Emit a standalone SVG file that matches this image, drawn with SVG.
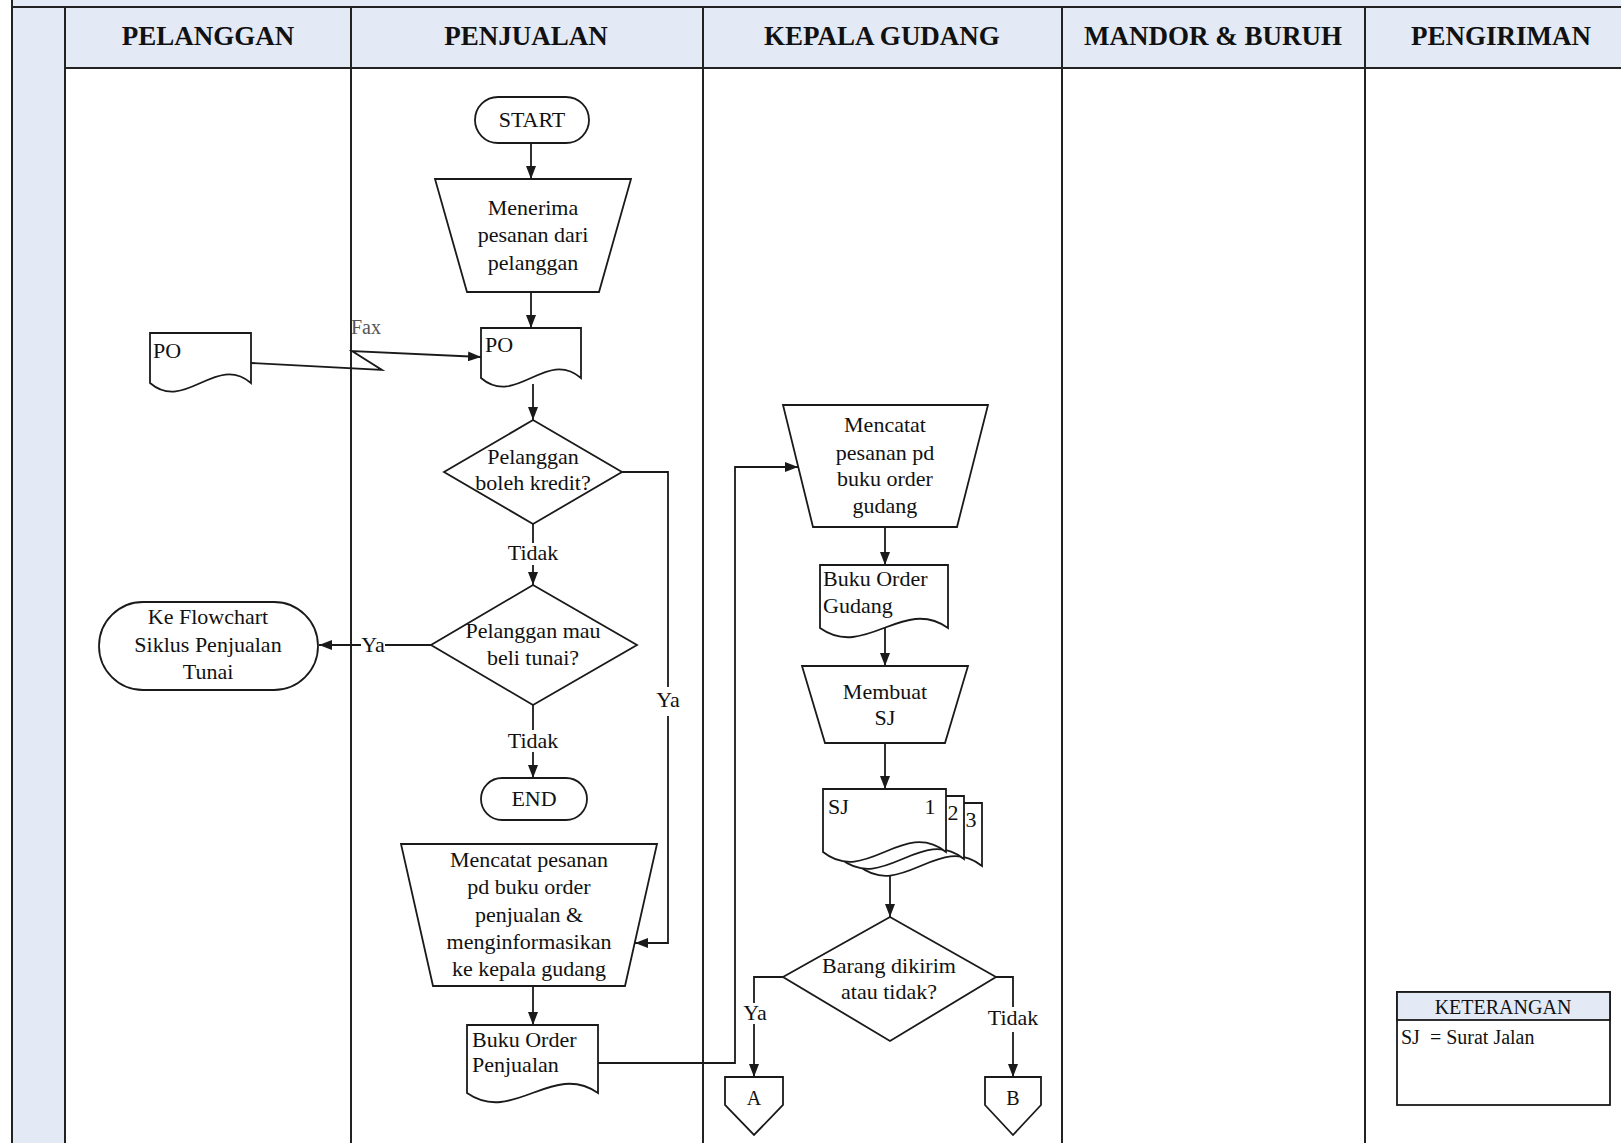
<svg xmlns="http://www.w3.org/2000/svg" width="1621" height="1143" viewBox="0 0 1621 1143">
  <style>
    .grid { stroke: #222; stroke-width: 2; fill: none; }
    .band { fill: #e4eaf5; }
    .shape { fill: #fff; stroke: #1a1a1a; stroke-width: 1.8; }
    .wire { fill: none; stroke: #1a1a1a; stroke-width: 1.8; }
    .arrow { marker-end: url(#head); }
    .t { font-family: "Liberation Serif", "Times New Roman", serif; font-size: 22px; fill: #111; }
    .c { text-anchor: middle; }
    .h { font-family: "Liberation Serif", "Times New Roman", serif; font-size: 27px; font-weight: bold; fill: #111; text-anchor: middle; }
    .s { font-size: 20px; }
    .fax { fill: #555; font-size: 20px; }
  </style>
  <defs>
    <marker id="head" markerUnits="userSpaceOnUse" markerWidth="13" markerHeight="10" refX="13" refY="5" orient="auto">
      <path d="M0,0 L13,5 L0,10 Z" fill="#1a1a1a"/>
    </marker>
  </defs>

  <!-- swimlane table -->
  <g id="lanes">
    <rect x="0" y="0" width="1621" height="1143" fill="#fff"/>
    <rect class="band" x="12" y="-5" width="1609" height="73"/>
    <rect class="band" x="12" y="-5" width="53" height="1150"/>
    <line class="grid" x1="12" y1="-5" x2="12" y2="1143"/>
    <line class="grid" x1="12" y1="7" x2="1621" y2="7"/>
    <line class="grid" x1="65" y1="7" x2="65" y2="1143"/>
    <line class="grid" x1="65" y1="68" x2="1621" y2="68"/>
    <line class="grid" x1="351" y1="7" x2="351" y2="1143"/>
    <line class="grid" x1="703" y1="7" x2="703" y2="1143"/>
    <line class="grid" x1="1062" y1="7" x2="1062" y2="1143"/>
    <line class="grid" x1="1365" y1="7" x2="1365" y2="1143"/>
    <text class="h" x="208" y="45">PELANGGAN</text>
    <text class="h" x="526" y="45">PENJUALAN</text>
    <text class="h" x="882" y="45">KEPALA GUDANG</text>
    <text class="h" x="1213" y="45">MANDOR &amp; BURUH</text>
    <text class="h" x="1501" y="45">PENGIRIMAN</text>
  </g>

  <!-- connectors -->
  <g id="connectors">
    <line class="wire arrow" x1="531" y1="143" x2="531" y2="179"/>
    <line class="wire arrow" x1="531" y1="292" x2="531" y2="328"/>
    <polyline class="wire arrow" points="251,363 382,370 352,351 481,357"/>
    <line class="wire arrow" x1="533" y1="384" x2="533" y2="420"/>
    <line class="wire" x1="533" y1="524" x2="533" y2="543"/>
    <line class="wire arrow" x1="533" y1="565" x2="533" y2="585"/>
    <line class="wire" x1="431" y1="645" x2="385" y2="645"/>
    <line class="wire arrow" x1="361" y1="645" x2="319" y2="645"/>
    <line class="wire" x1="533" y1="705" x2="533" y2="730"/>
    <line class="wire arrow" x1="533" y1="752" x2="533" y2="778"/>
    <polyline class="wire" points="622,472 668,472 668,687"/>
    <polyline class="wire arrow" points="668,716 668,943 635,943"/>
    <line class="wire arrow" x1="533" y1="986" x2="533" y2="1025"/>
    <polyline class="wire arrow" points="598,1063 735,1063 735,467 798,467"/>
    <line class="wire arrow" x1="885" y1="527" x2="885" y2="565"/>
    <line class="wire arrow" x1="885" y1="628" x2="885" y2="666"/>
    <line class="wire arrow" x1="885" y1="743" x2="885" y2="789"/>
    <line class="wire arrow" x1="890" y1="874" x2="890" y2="917"/>
    <polyline class="wire" points="783,977 754,977 754,1003"/>
    <line class="wire arrow" x1="754" y1="1024" x2="754" y2="1077"/>
    <polyline class="wire" points="996,977 1013,977 1013,1007"/>
    <line class="wire arrow" x1="1013" y1="1032" x2="1013" y2="1077"/>
    <text class="t fax" x="351" y="334">Fax</text>
    <text class="t c" x="533" y="560">Tidak</text>
    <text class="t c" x="373" y="652">Ya</text>
    <text class="t c" x="533" y="748">Tidak</text>
    <text class="t c" x="668" y="707">Ya</text>
    <text class="t c" x="755" y="1020">Ya</text>
    <text class="t c" x="1013" y="1025">Tidak</text>
  </g>

  <g id="start">
    <rect class="shape" x="475" y="97" width="114" height="46" rx="23"/>
    <text class="t c" x="532" y="127">START</text>
  </g>

  <g id="terima-pesanan">
    <polygon class="shape" points="435,179 631,179 599,292 467,292"/>
    <text class="t c" x="533" y="215">Menerima</text>
    <text class="t c" x="533" y="242">pesanan dari</text>
    <text class="t c" x="533" y="270">pelanggan</text>
  </g>

  <g id="po-pelanggan">
    <path class="shape" d="M150,333 H251 V383 C216,353 185,413 150,383 Z"/>
    <text class="t" x="153" y="358">PO</text>
  </g>

  <g id="po-penjualan">
    <path class="shape" d="M481,328 H581 V378 C546,348 516,408 481,378 Z"/>
    <text class="t" x="485" y="352">PO</text>
  </g>

  <g id="cek-kredit">
    <polygon class="shape" points="533,420 622,472 533,524 444,472"/>
    <text class="t c" x="533" y="464">Pelanggan</text>
    <text class="t c" x="533" y="490">boleh kredit?</text>
  </g>

  <g id="cek-tunai">
    <polygon class="shape" points="533,585 637,645 533,705 431,645"/>
    <text class="t c" x="533" y="638">Pelanggan mau</text>
    <text class="t c" x="533" y="665">beli tunai?</text>
  </g>

  <g id="ke-tunai">
    <rect class="shape" x="99" y="602" width="219" height="88" rx="44"/>
    <text class="t c" x="208" y="624">Ke Flowchart</text>
    <text class="t c" x="208" y="652">Siklus Penjualan</text>
    <text class="t c" x="208" y="679">Tunai</text>
  </g>

  <g id="end">
    <rect class="shape" x="481" y="778" width="106" height="42" rx="21"/>
    <text class="t c" x="534" y="806">END</text>
  </g>

  <g id="catat-penjualan">
    <polygon class="shape" points="401,844 657,844 625,986 433,986"/>
    <text class="t c" x="529" y="867">Mencatat pesanan</text>
    <text class="t c" x="529" y="894">pd buku order</text>
    <text class="t c" x="529" y="922">penjualan &amp;</text>
    <text class="t c" x="529" y="949">menginformasikan</text>
    <text class="t c" x="529" y="976">ke kepala gudang</text>
  </g>

  <g id="buku-order-penjualan">
    <path class="shape" d="M467,1025 H598 V1093 C552,1061 513,1125 467,1093 Z"/>
    <text class="t" x="472" y="1047">Buku Order</text>
    <text class="t" x="472" y="1072">Penjualan</text>
  </g>

  <g id="catat-gudang">
    <polygon class="shape" points="783,405 988,405 957,527 813,527"/>
    <text class="t c" x="885" y="432">Mencatat</text>
    <text class="t c" x="885" y="460">pesanan pd</text>
    <text class="t c" x="885" y="486">buku order</text>
    <text class="t c" x="885" y="513">gudang</text>
  </g>

  <g id="buku-order-gudang">
    <path class="shape" d="M820,565 H948 V628 C903,596 865,660 820,628 Z"/>
    <text class="t" x="823" y="586">Buku Order</text>
    <text class="t" x="823" y="613">Gudang</text>
  </g>

  <g id="membuat-sj">
    <polygon class="shape" points="802,666 968,666 945,743 825,743"/>
    <text class="t c" x="885" y="699">Membuat</text>
    <text class="t c" x="885" y="725">SJ</text>
  </g>

  <g id="surat-jalan">
    <path class="shape" d="M859,803 H982 V866 C939,832 902,900 859,866 Z"/>
    <path class="shape" d="M841,796 H964 V859 C921,825 884,893 841,859 Z"/>
    <path class="shape" d="M823,789 H946 V852 C903,818 866,886 823,852 Z"/>
    <text class="t" x="828" y="814">SJ</text>
    <text class="t c" x="930" y="814">1</text>
    <text class="t c" x="953" y="820">2</text>
    <text class="t c" x="971" y="827">3</text>
  </g>

  <g id="cek-kirim">
    <polygon class="shape" points="890,917 996,977 890,1041 783,977"/>
    <text class="t c" x="889" y="973">Barang dikirim</text>
    <text class="t c" x="889" y="999">atau tidak?</text>
  </g>

  <g id="konektor-a">
    <polygon class="shape" points="725,1077 783,1077 783,1105 754,1135 725,1105"/>
    <text class="t c s" x="754" y="1105">A</text>
  </g>

  <g id="konektor-b">
    <polygon class="shape" points="985,1077 1041,1077 1041,1105 1013,1135 985,1105"/>
    <text class="t c s" x="1013" y="1105">B</text>
  </g>

  <g id="keterangan">
    <rect class="shape" x="1397" y="992" width="213" height="113"/>
    <rect x="1397" y="992" width="213" height="28" fill="#e4eaf5" stroke="#1a1a1a" stroke-width="1.8"/>
    <text class="t c s" x="1503" y="1014">KETERANGAN</text>
    <text class="t s" x="1401" y="1044" xml:space="preserve">SJ  = Surat Jalan</text>
  </g>
</svg>
